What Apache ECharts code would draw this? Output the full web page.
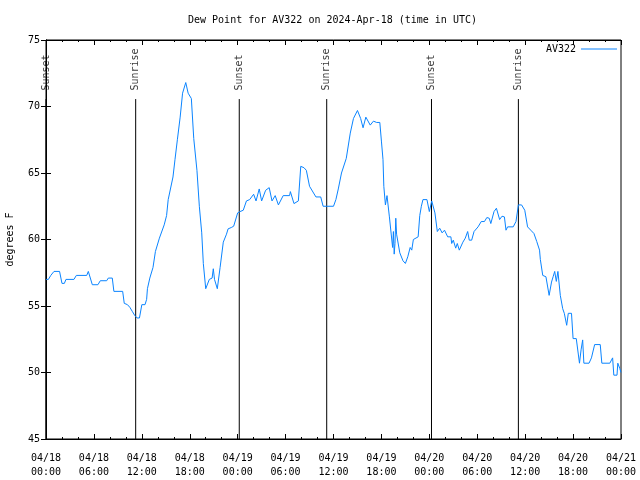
<!DOCTYPE html>
<html>
<head>
<meta charset="utf-8">
<script src="https://cdn.jsdelivr.net/npm/echarts@6/dist/echarts.min.js"></script>
<style>html,body{margin:0;padding:0;background:#fff;}#c{width:640px;height:480px;}</style>
</head>
<body>
<div id="c"></div>
<script>
// Hours since 04/18 00:00 UTC
var hours = [0.0,0.3,0.6,1.0,1.7,2.0,2.3,2.5,3.5,3.8,5.1,5.3,5.5,5.8,6.5,6.8,7.6,7.8,8.3,8.5,9.6,9.8,10.2,10.5,10.8,11.1,11.4,11.7,12.0,12.4,12.6,12.7,13.0,13.2,13.4,13.7,14.2,14.8,15.1,15.3,15.9,16.15,16.45,16.8,17.1,17.5,17.8,18.2,18.5,18.9,19.2,19.5,19.7,20.0,20.2,20.45,20.8,20.95,21.1,21.45,21.8,22.2,22.6,22.8,23.2,23.5,23.7,24.0,24.3,24.7,25.1,25.5,26.0,26.3,26.7,27.0,27.5,27.95,28.3,28.7,29.1,29.7,30.5,30.6,31.05,31.6,31.9,32.3,32.6,33.0,33.8,34.4,34.7,36.0,36.3,36.6,37.0,37.6,38.1,38.5,39.0,39.4,39.7,40.05,40.6,41.0,41.4,41.8,42.0,42.2,42.3,42.5,42.7,43.0,43.4,43.5,43.6,43.7,43.8,43.9,44.3,44.7,45.0,45.3,45.6,45.8,46.0,46.6,46.8,47.0,47.2,47.7,48.0,48.3,48.7,49.0,49.3,49.6,49.9,50.3,50.7,50.8,51.0,51.3,51.5,51.75,52.2,52.5,52.8,53.0,53.3,53.6,54.1,54.35,54.5,54.9,55.2,55.5,55.7,56.1,56.4,56.8,57.1,57.4,57.6,57.8,58.5,58.85,59.15,59.55,59.95,60.3,60.7,61.1,61.45,61.8,61.9,62.2,62.6,63.0,63.3,63.5,63.7,63.9,64.1,64.4,64.7,64.9,65.2,65.4,65.8,66.0,66.4,66.8,67.0,67.2,67.35,68.0,68.3,68.7,69.4,69.6,70.6,70.95,71.1,71.5,71.6,71.85,72.0];
var dewPoint = [57.0,57.0,57.3,57.6,57.6,56.7,56.7,57.0,57.0,57.3,57.3,57.6,57.6,56.6,56.6,56.9,56.9,57.1,57.1,56.1,56.1,55.2,55.1,54.9,54.6,54.3,54.1,54.1,55.1,55.1,55.5,56.3,57.1,57.2,57.9,59.1,60.1,61.1,61.8,63.0,64.7,66.0,67.5,69.2,71.0,71.8,71.0,70.6,67.6,65.2,62.5,60.5,58.2,56.3,56.3,57.0,57.1,57.8,57.0,56.3,57.9,59.8,60.4,60.8,60.9,61.0,61.1,62.0,62.1,62.2,62.9,63.0,63.4,62.9,63.8,62.9,63.7,63.9,62.9,63.3,62.6,63.3,63.3,63.6,62.7,62.9,65.5,65.4,65.2,64.0,63.2,63.2,62.5,62.5,63.0,63.8,65.0,66.1,68.0,69.1,69.7,69.1,68.4,69.2,68.6,68.9,68.8,68.8,67.4,66.0,64.0,62.6,63.3,61.7,59.4,60.6,58.9,59.7,61.6,60.4,59.0,58.4,58.2,58.7,59.4,59.2,60.0,60.2,61.8,62.5,63.0,63.0,62.1,62.9,62.0,60.6,60.85,60.5,60.7,60.2,60.2,59.7,59.95,59.35,59.7,59.2,59.8,60.1,60.6,59.95,59.95,60.6,60.95,60.95,61.35,61.35,61.65,61.6,61.2,62.1,62.35,61.5,61.75,61.7,60.7,60.95,60.95,61.35,62.6,62.6,62.2,60.95,60.7,60.45,59.85,59.2,58.5,57.3,57.2,55.8,56.8,57.2,57.6,56.85,57.6,55.8,54.8,54.45,53.55,54.45,54.45,52.55,52.55,50.7,51.7,52.45,50.7,50.7,51.1,52.1,52.1,50.7,50.7,51.1,49.8,49.8,50.7,50.3,50.0];
// Sunrise / sunset events (hours since 04/18 00:00 UTC)
var eventHours = [0.0, 11.23, 24.2, 35.15, 48.27, 59.15];
var eventNames = ["Sunset","Sunrise","Sunset","Sunrise","Sunset","Sunrise"];
// x tick labels every 6 hours
var xTickLabels = ["04/18\n00:00","04/18\n06:00","04/18\n12:00","04/18\n18:00","04/19\n00:00","04/19\n06:00","04/19\n12:00","04/19\n18:00","04/20\n00:00","04/20\n06:00","04/20\n12:00","04/20\n18:00","04/21\n00:00"];
var seriesName = "AV322";

var FONT = "DejaVu Sans Mono";
var chart = echarts.init(document.getElementById('c'), null, {renderer: 'canvas'});

var mainData = hours.map(function (h, i) { return [h, dewPoint[i]]; });
var series = [];
eventHours.forEach(function (h, i) {
  series.push({
    type: 'line', name: 'ev' + i, data: [[h, 45], [h, 70.56]],
    symbol: 'none', silent: true, animation: false,
    lineStyle: {color: '#000', width: 1}, z: 1
  });
});
series.push({
  type: 'scatter', name: 'evlabels', silent: true, animation: false,
  symbolSize: 0,
  data: eventHours.map(function (h, i) { return {value: [h, 71.2], name: eventNames[i]}; }),
  label: {
    show: true, position: 'inside', rotate: 90, align: 'left', verticalAlign: 'middle',
    formatter: function (p) { return p.name; },
    fontFamily: FONT, fontSize: 10, color: '#000'
  }
});
series.push({
  type: 'line', name: seriesName, data: mainData, symbol: 'none', animation: false,
  lineStyle: {color: '#0a84ff', width: 1}, itemStyle: {color: '#0a84ff'}, z: 3
});

var tickCommon = {
  min: 0, max: 72, interval: 6, type: 'value',
  axisLine: {show: true, lineStyle: {color: '#000', width: 1}},
  axisTick: {show: true, inside: true, length: 5, lineStyle: {color: '#000'}},
  minorTick: {show: true, splitNumber: 3, length: 2, lineStyle: {color: '#000'}},
  splitLine: {show: false}
};

chart.setOption({
  backgroundColor: '#fff',
  animation: false,
  title: {
    text: 'Dew Point for AV322 on 2024-Apr-18 (time in UTC)',
    left: 183, top: 10,
    textStyle: {fontFamily: FONT, fontSize: 10, fontWeight: 'normal', color: '#000'}
  },
  legend: {
    data: [seriesName], right: 18, top: 39, align: 'right',
    icon: 'rect', itemWidth: 36, itemHeight: 1, itemGap: 6,
    textStyle: {fontFamily: FONT, fontSize: 10, color: '#000'}
  },
  grid: {left: 46, right: 19, top: 40, bottom: 41, show: true, borderColor: '#000', borderWidth: 1,
         containLabel: false, outerBoundsMode: 'none'},
  xAxis: [
    Object.assign({}, tickCommon, {
      position: 'bottom',
      axisLabel: {
        fontFamily: FONT, fontSize: 10, color: '#000', margin: 12, lineHeight: 14,
        formatter: function (v) { return xTickLabels[Math.round(v / 6)]; }
      }
    }),
    Object.assign({}, tickCommon, {position: 'top', axisLabel: {show: false}})
  ],
  yAxis: [
    {
      type: 'value', min: 45, max: 75, interval: 5, position: 'left',
      name: 'degrees F', nameLocation: 'middle', nameRotate: 90, nameGap: 31,
      nameTextStyle: {fontFamily: FONT, fontSize: 10, color: '#000'},
      axisLine: {show: true, lineStyle: {color: '#000'}},
      axisTick: {show: true, inside: true, length: 5, lineStyle: {color: '#000'}},
      axisLabel: {fontFamily: FONT, fontSize: 10, color: '#000', margin: 6},
      splitLine: {show: false}
    },
    {
      type: 'value', min: 45, max: 75, interval: 5, position: 'right',
      axisLine: {show: true, lineStyle: {color: '#000'}},
      axisTick: {show: true, inside: true, length: 5, lineStyle: {color: '#000'}},
      axisLabel: {show: false},
      splitLine: {show: false}
    }
  ],
  series: series
});
</script>
</body>
</html>
